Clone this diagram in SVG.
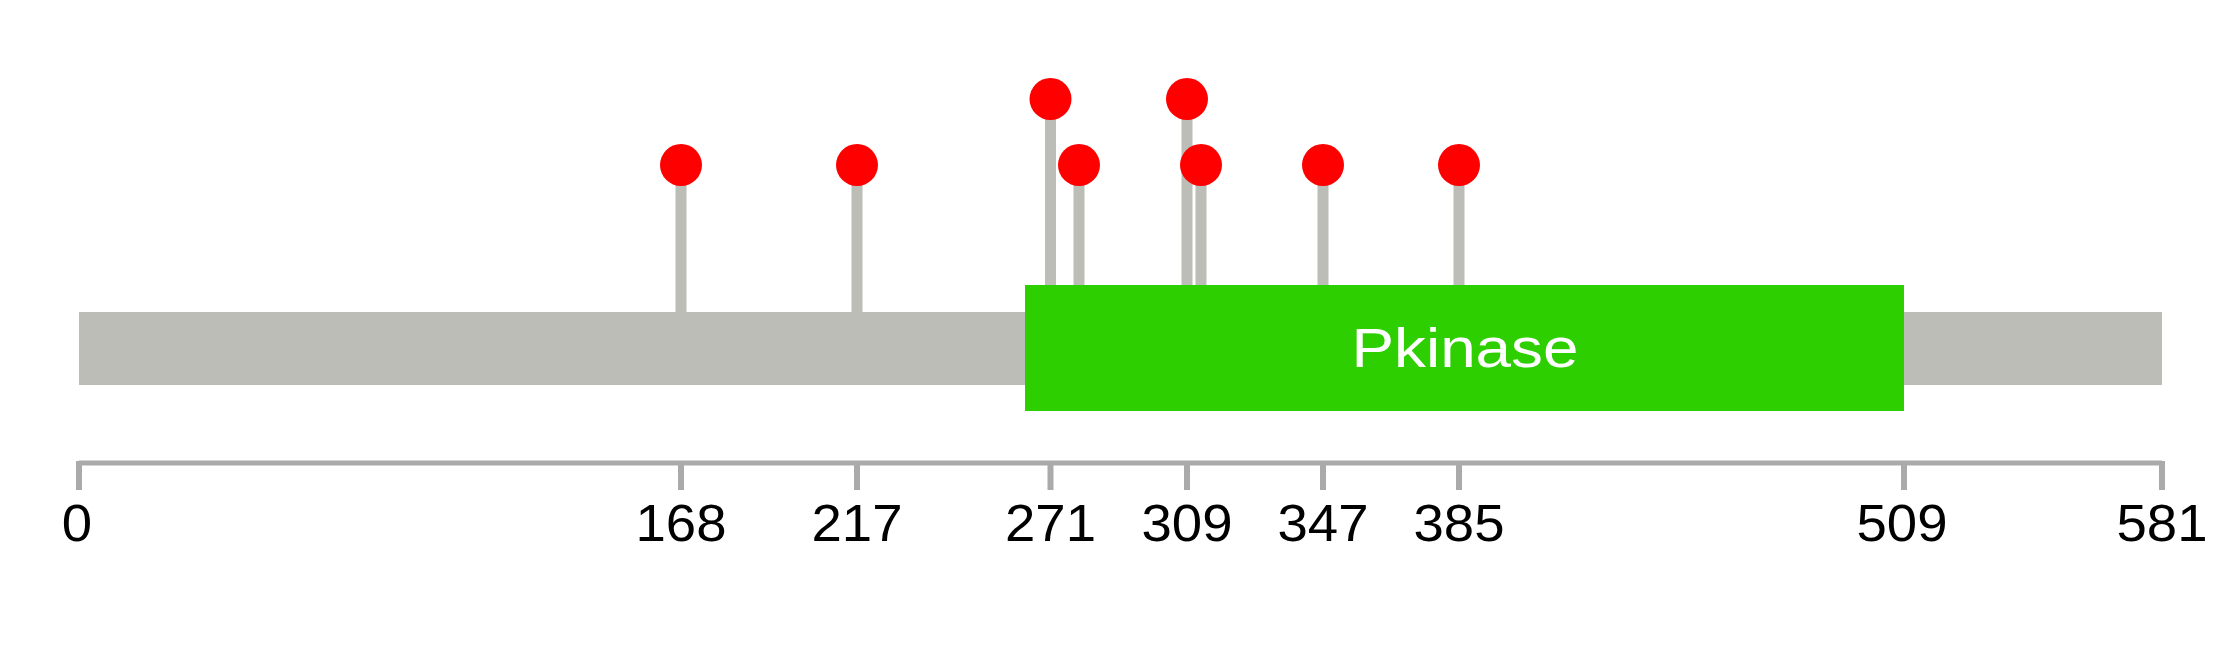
<svg xmlns="http://www.w3.org/2000/svg" width="2239" height="645" viewBox="0 0 2239 645">
<style>
.stem{stroke:#BBBDB6;stroke-width:11}
.dot{fill:#FF0000}
.tick{stroke:#AAAAAA;stroke-width:6}
.lbl{font-family:"Liberation Sans",Arial,sans-serif;font-size:51px;fill:#000000;text-anchor:middle}
.dom{font-family:"Liberation Sans",Arial,sans-serif;font-size:55px;fill:#FFFFFF;text-anchor:middle}
</style>
<rect width="2239" height="645" fill="#FFFFFF"/>
<g id="backbone"><rect x="79" y="312" width="2083" height="73" fill="#BBBDB6"/></g>
<g id="connectors">
<line class="stem" x1="681" y1="165" x2="681" y2="312"/>
<line class="stem" x1="857" y1="165" x2="857" y2="312"/>
<line class="stem" x1="1050.5" y1="99" x2="1050.5" y2="285"/>
<line class="stem" x1="1079" y1="165" x2="1079" y2="285"/>
<line class="stem" x1="1187" y1="99" x2="1187" y2="285"/>
<line class="stem" x1="1201" y1="165" x2="1201" y2="285"/>
<line class="stem" x1="1323" y1="165" x2="1323" y2="285"/>
<line class="stem" x1="1459" y1="165" x2="1459" y2="285"/>
</g>
<g id="domain-pkinase">
<rect x="1025" y="285" width="879" height="126" fill="#2DCF00"/>
<text class="dom" transform="translate(1465,367) scale(1.16,1)">Pkinase</text>
</g>
<g id="sites">
<circle class="dot" cx="681" cy="165" r="21"/>
<circle class="dot" cx="857" cy="165" r="21"/>
<circle class="dot" cx="1050.5" cy="99" r="21"/>
<circle class="dot" cx="1079" cy="165" r="21"/>
<circle class="dot" cx="1187" cy="99" r="21"/>
<circle class="dot" cx="1201" cy="165" r="21"/>
<circle class="dot" cx="1323" cy="165" r="21"/>
<circle class="dot" cx="1459" cy="165" r="21"/>
</g>
<g id="axis">
<line x1="79" y1="463" x2="2162" y2="463" stroke="#AAAAAA" stroke-width="5"/>
<line class="tick" x1="79" y1="461" x2="79" y2="490"/>
<line class="tick" x1="681" y1="461" x2="681" y2="490"/>
<line class="tick" x1="857" y1="461" x2="857" y2="490"/>
<line class="tick" x1="1050.5" y1="461" x2="1050.5" y2="490"/>
<line class="tick" x1="1187" y1="461" x2="1187" y2="490"/>
<line class="tick" x1="1323" y1="461" x2="1323" y2="490"/>
<line class="tick" x1="1459" y1="461" x2="1459" y2="490"/>
<line class="tick" x1="1904" y1="461" x2="1904" y2="490"/>
<line class="tick" x1="2162" y1="461" x2="2162" y2="490"/>
<text class="lbl" transform="translate(77,541) scale(1.07,1)">0</text>
<text class="lbl" transform="translate(681,541) scale(1.07,1)">168</text>
<text class="lbl" transform="translate(857,541) scale(1.07,1)">217</text>
<text class="lbl" transform="translate(1050.5,541) scale(1.07,1)">271</text>
<text class="lbl" transform="translate(1187,541) scale(1.07,1)">309</text>
<text class="lbl" transform="translate(1323,541) scale(1.07,1)">347</text>
<text class="lbl" transform="translate(1459,541) scale(1.07,1)">385</text>
<text class="lbl" transform="translate(1902,541) scale(1.07,1)">509</text>
<text class="lbl" transform="translate(2162,541) scale(1.07,1)">581</text>
</g>
</svg>
